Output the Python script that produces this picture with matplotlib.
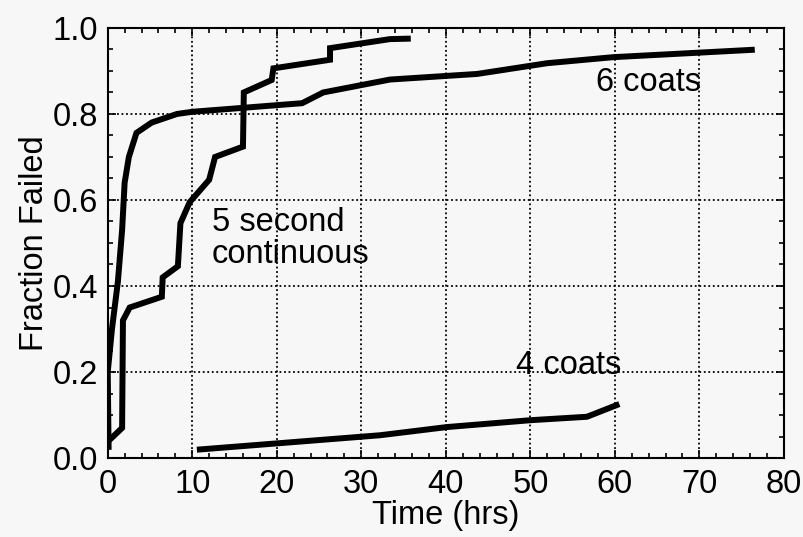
import matplotlib.pyplot as plt
from matplotlib.ticker import MultipleLocator

# curva "6 coats"
t6 = [0.1, 0.0, 0.5, 1.2, 1.7, 2.0, 2.5, 3.4, 5.2, 8.2, 10.0, 23.0, 25.5, 33.4, 43.7, 52.0, 59.8, 76.2]
f6 = [0.026, 0.20, 0.30, 0.41, 0.53, 0.64, 0.70, 0.756, 0.78, 0.80, 0.805, 0.825, 0.85, 0.88, 0.893, 0.918, 0.932, 0.949]

# curva "5 second continuous"
t5 = [0.1, 1.7, 1.8, 2.6, 6.4, 6.5, 8.3, 8.6, 9.7, 12.0, 12.7, 16.0, 16.1, 19.4, 19.6, 26.3, 26.3, 33.4, 35.5]
f5 = [0.04, 0.07, 0.32, 0.35, 0.375, 0.42, 0.446, 0.546, 0.595, 0.647, 0.70, 0.724, 0.85, 0.879, 0.906, 0.926, 0.953, 0.974, 0.975]

# curva "4 coats"
t4 = [10.9, 32.2, 40.1, 50.0, 56.7, 60.2]
f4 = [0.02, 0.053, 0.072, 0.088, 0.096, 0.123]

plt.rcParams['font.family'] = ['Liberation Sans', 'DejaVu Sans']
fs = 23.5

fig, ax = plt.subplots(figsize=(8.04, 5.37), dpi=100)
fig.patch.set_facecolor('#f7f7f7')
ax.set_facecolor('#f7f7f7')
fig.subplots_adjust(left=0.134, right=0.975, top=0.948, bottom=0.147)

lw = 4.3
ax.plot(t6, f6, color='black', linewidth=lw, solid_joinstyle='miter')
ax.plot(t5, f5, color='black', linewidth=lw, solid_joinstyle='miter')
ax.plot(t4, f4, color='black', linewidth=lw, solid_joinstyle='miter')

ax.set_xlim(0, 80)
ax.set_ylim(0, 1.0)
ax.xaxis.set_major_locator(MultipleLocator(10))
ax.xaxis.set_minor_locator(MultipleLocator(2))
ax.yaxis.set_major_locator(MultipleLocator(0.2))
ax.yaxis.set_minor_locator(MultipleLocator(0.05))
ax.yaxis.set_major_formatter(plt.FuncFormatter(lambda v, p: '%.1f' % v))

ax.tick_params(which='both', direction='in', top=True, right=True, labelsize=fs, width=1.2)
ax.tick_params(which='major', length=6)
ax.tick_params(which='minor', length=3.5)
ax.tick_params(axis='x', which='major', pad=8)
ax.tick_params(axis='y', which='major', pad=7)
for s in ax.spines.values():
    s.set_linewidth(1.5)

# grilla
ax.grid(True, which='major', color='black', linestyle=(0, (1, 1.5)), linewidth=1.3)

ax.set_xlabel('Time (hrs)', fontsize=fs, labelpad=0)
ax.set_ylabel('Fraction Failed', fontsize=fs, labelpad=2)

ax.text(64, 0.872, '6 coats', fontsize=fs, ha='center', va='center')
ax.text(12.3, 0.51, '5 second\ncontinuous', fontsize=fs, ha='left', va='center', linespacing=1.05)
ax.text(54.5, 0.216, '4 coats', fontsize=fs, ha='center', va='center')

fig.savefig('out.png', dpi=100, facecolor=fig.get_facecolor())
